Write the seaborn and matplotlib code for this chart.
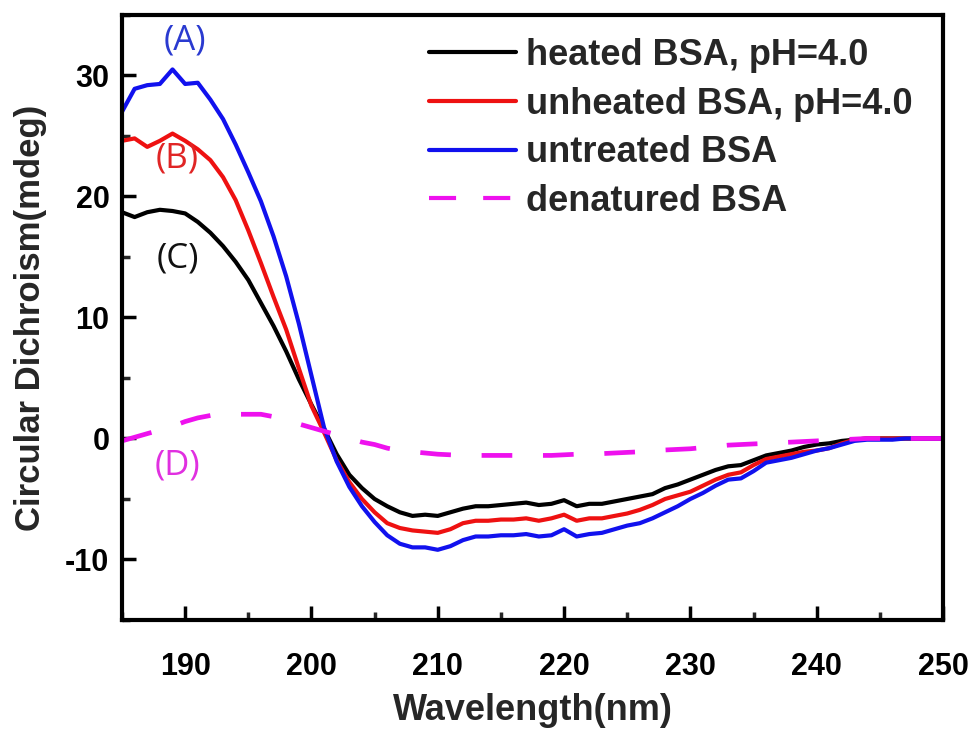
import numpy as np
import pandas as pd
import matplotlib
matplotlib.use("Agg")
import matplotlib.pyplot as plt
import seaborn as sns
from matplotlib.ticker import MultipleLocator

# ---------------- data ----------------
wavelength = list(range(185, 251))

untreated = [27.0, 28.9, 29.2, 29.3, 30.5, 29.3, 29.4, 28.0, 26.4, 24.3,
             22.0, 19.6, 16.7, 13.4, 9.5, 5.2, 0.9, -1.9, -4.0, -5.6,
             -6.9, -8.0, -8.7, -9.0, -9.0, -9.2, -8.9, -8.4, -8.1, -8.1,
             -8.0, -8.0, -7.9, -8.1, -8.0, -7.5, -8.1, -7.9, -7.8, -7.5,
             -7.2, -7.0, -6.6, -6.1, -5.6, -5.0, -4.5, -3.9, -3.4, -3.3,
             -2.7, -2.0, -1.8, -1.6, -1.3, -1.0, -0.8, -0.5, -0.2, -0.1,
             -0.1, -0.1, 0.0, 0.0, 0.0, 0.0]

unheated = [24.6, 24.8, 24.1, 24.6, 25.2, 24.6, 23.9, 23.0, 21.6, 19.7,
            17.2, 14.5, 11.7, 9.0, 5.8, 2.7, 0.5, -1.8, -3.6, -5.0,
            -6.1, -7.0, -7.4, -7.6, -7.7, -7.8, -7.5, -7.0, -6.8, -6.8,
            -6.7, -6.7, -6.6, -6.8, -6.6, -6.3, -6.8, -6.6, -6.6, -6.4,
            -6.2, -5.9, -5.5, -5.0, -4.7, -4.4, -3.9, -3.4, -3.0, -2.8,
            -2.2, -1.7, -1.5, -1.3, -1.1, -1.0, -0.8, -0.4, -0.1, 0.0,
            0.0, 0.0, 0.0, 0.0, 0.0, 0.0]

heated = [18.7, 18.3, 18.7, 18.9, 18.8, 18.6, 17.9, 17.0, 15.9, 14.6,
          13.1, 11.2, 9.3, 7.2, 4.9, 2.8, 0.8, -1.3, -3.0, -4.1,
          -5.0, -5.6, -6.1, -6.4, -6.3, -6.4, -6.1, -5.8, -5.6, -5.6,
          -5.5, -5.4, -5.3, -5.5, -5.4, -5.1, -5.6, -5.4, -5.4, -5.2,
          -5.0, -4.8, -4.6, -4.1, -3.8, -3.4, -3.0, -2.6, -2.3, -2.2,
          -1.8, -1.4, -1.2, -1.0, -0.7, -0.5, -0.4, -0.2, -0.1, 0.0,
          0.0, 0.0, 0.0, 0.0, 0.0, 0.0]

denatured = [-0.2, 0.1, 0.4, 0.7, 1.0, 1.4, 1.7, 1.9, 2.0, 2.0,
             2.0, 2.0, 1.8, 1.5, 1.2, 0.9, 0.6, 0.3, 0.0, -0.3,
             -0.5, -0.8, -1.0, -1.1, -1.2, -1.3, -1.35, -1.4, -1.4, -1.4,
             -1.4, -1.4, -1.4, -1.4, -1.4, -1.35, -1.3, -1.3, -1.25, -1.2,
             -1.15, -1.1, -1.0, -0.95, -0.9, -0.85, -0.75, -0.65, -0.55, -0.5,
             -0.45, -0.4, -0.35, -0.3, -0.25, -0.2, -0.15, -0.1, -0.05, 0.0,
             0.0, 0.0, 0.0, 0.0, 0.0, 0.0]

series_names = ["heated BSA, pH=4.0", "unheated BSA, pH=4.0",
                "untreated BSA", "denatured BSA"]
series_values = [heated, unheated, untreated, denatured]
series_colors = ["#000000", "#ee1111", "#1111ee", "#ee11ee"]

annot_labels = ["(A)", "(B)", "(C)", "(D)"]
annot_x = [190.0, 189.4, 189.4, 189.4]
annot_y = [32.9, 23.1, 14.9, -2.2]
annot_colors = ["#2a3ad0", "#e02525", "#111111", "#e030e0"]

x_ticks = [190, 200, 210, 220, 230, 240, 250]
y_ticks = [-10, 0, 10, 20, 30]

# ---------------- plot ----------------
sns.set_style("white")
plt.rcParams["font.family"] = ["Liberation Sans", "DejaVu Sans"]
plt.rcParams["axes.unicode_minus"] = False

fig = plt.figure(figsize=(9.79, 7.35), dpi=100)
ax = fig.add_axes([0.1246, 0.1565, 0.8386, 0.8231])

for name, vals, col in zip(series_names, series_values, series_colors):
    df = pd.DataFrame({"Wavelength": wavelength, "CD": vals})
    dashed = name == "denatured BSA"
    sns.lineplot(data=df, x="Wavelength", y="CD", ax=ax, color=col,
                 linewidth=3.4 if dashed else 3.0, label=name,
                 linestyle="--" if dashed else "-")

for line in ax.get_lines():
    if line.get_linestyle() == "--":
        line.set_dashes((6.5, 6.5))

ax.set_xlim(185, 250)
ax.set_ylim(-15, 35)
ax.set_xticks(x_ticks)
ax.set_yticks(y_ticks)
ax.xaxis.set_minor_locator(MultipleLocator(5))
ax.yaxis.set_minor_locator(MultipleLocator(5))

for sp in ax.spines.values():
    sp.set_linewidth(3.0)
    sp.set_color("black")

ax.tick_params(axis="both", which="major", direction="in", length=10,
               width=2.5, labelsize=22, top=False, right=False,
               bottom=True, left=True, colors="black")
ax.tick_params(axis="x", which="major", pad=23)
ax.tick_params(axis="y", which="major", pad=9)
ax.tick_params(axis="both", which="minor", direction="in", length=5.5,
               width=2.5, top=False, right=False, bottom=True, left=True)
for lab in ax.get_xticklabels() + ax.get_yticklabels():
    lab.set_fontweight("bold")

ax.set_xlabel("Wavelength(nm)", fontsize=26, fontweight="bold", labelpad=8)
ax.set_ylabel("Circular Dichroism(mdeg)", fontsize=25, fontweight="bold",
              labelpad=13)

for t, x, y, c in zip(annot_labels, annot_x, annot_y, annot_colors):
    ax.text(x, y, t, color=c, fontsize=25, ha="center", va="center",
            fontweight="medium", family=["Open Sans", "DejaVu Sans"])

leg = ax.legend(loc="upper right", bbox_to_anchor=(0.99, 0.998),
                frameon=False, fontsize=26, handlelength=2.4,
                handletextpad=0.3, labelspacing=0.38, borderaxespad=0.2)
for txt in leg.get_texts():
    txt.set_fontweight("bold")
for h in leg.get_lines():
    h.set_linewidth(3.0)

fig.savefig("out.png", dpi=100, facecolor="white")
